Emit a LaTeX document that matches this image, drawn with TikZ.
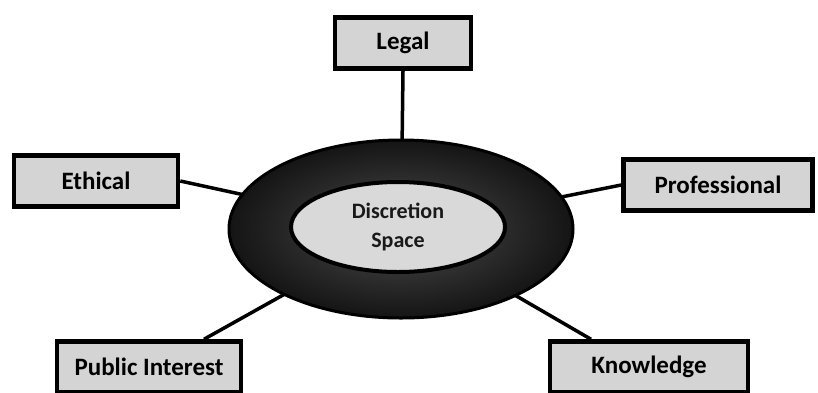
\documentclass[tikz,border=0pt]{standalone}
\usepackage{fontspec}
\setmainfont{Carlito}
\usetikzlibrary{shapes.geometric}
\begin{document}
\begin{tikzpicture}[x=1pt,y=-1pt,
  cat/.style={draw=black,line width=4.5pt,fill=black!17,rectangle,minimum height=51pt,font=\fontsize{25}{27}\selectfont\bfseries,inner sep=0pt},
  link/.style={draw=black,line width=3.5pt}]
\useasboundingbox (0,0) rectangle (818,392);
\fill[white] (0,0) rectangle (818,392);
\node[cat,minimum width=136pt] (legal) at (403,43) {Legal};
\node[cat,minimum width=164pt] (ethical) at (96,181) {Ethical};
\node[cat,minimum width=189pt] (prof) at (718,185) {Professional};
\node[cat,minimum width=184pt] (pub) at (149,367) {Public Interest};
\node[cat,minimum width=198pt] (know) at (649,367) {Knowledge};
\coordinate (c) at (401,229);
\draw[link] (legal.south) -- (c);
\draw[link] (ethical.east) -- (c);
\draw[link] (prof.west) -- (c);
\draw[link] ([xshift=55pt]pub.north) -- (c);
\draw[link] ([xshift=-58pt]know.north) -- (c);
\node[ellipse,draw=black,line width=3pt,inner color=black!70,outer color=black!92,minimum width=344pt,minimum height=178pt] (ring) at (c) {};
\node[ellipse,draw=black,line width=4pt,fill=black!15,minimum width=214pt,minimum height=90pt,align=center,font=\fontsize{22}{29}\selectfont\bfseries,text=black!90] (disc) at (398,227) {Discretion\\Space};
\end{tikzpicture}
\end{document}
